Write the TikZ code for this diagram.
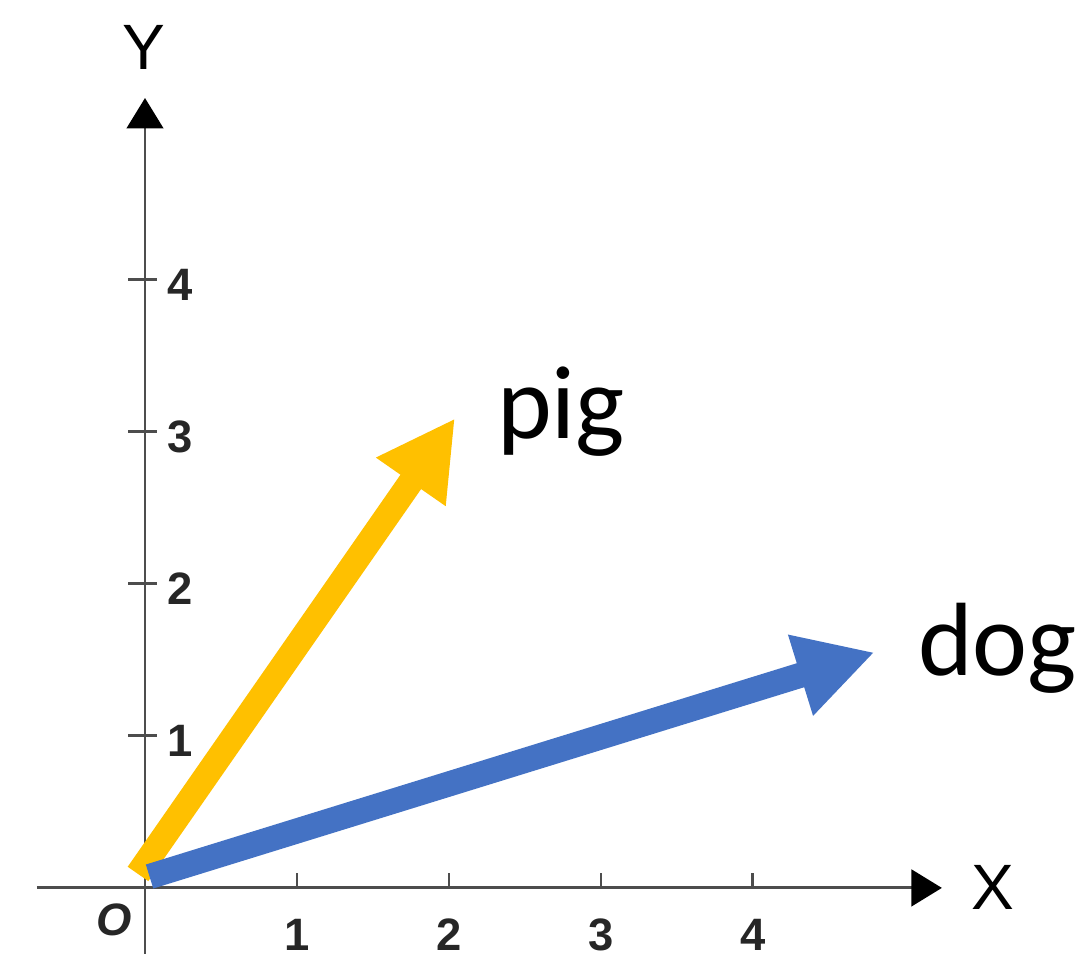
\documentclass[tikz,border=0pt]{standalone}
\usepackage{fontspec}
\setmainfont{Liberation Sans}
\newfontfamily\wordfont{Carlito}
\usepackage{tikz}
\usetikzlibrary{arrows.meta,positioning,calc}
\definecolor{piggold}{HTML}{FFC000}
\definecolor{dogblue}{HTML}{4472C4}
\definecolor{axisgrey}{HTML}{4D4D4D}

\begin{document}
\begin{tikzpicture}[
  axis/.style={draw=axisgrey,line width=0.55pt,-{Triangle[length=2mm,width=2.4mm,fill=black,color=black]}},
  tick/.style={draw=axisgrey,line width=0.55pt},
  ticklbl/.style={font=\bfseries\fontsize{8.5}{10}\selectfont,inner sep=0pt,text=black!85},
  axlbl/.style={font=\fontsize{12}{14}\selectfont,inner sep=0pt},
  word/.style={font=\wordfont\fontsize{19.5}{22}\selectfont,inner sep=0pt,anchor=base west},
  vec/.style={line width=4.7pt,-{Triangle[length=5.1mm,width=5.2mm]}}
]
\useasboundingbox[fill=white] (-0.954,-0.434) rectangle (6.191,5.842);
% axes
\coordinate (O) at (0,0);
\coordinate (xstart) at (-0.711,0);
\coordinate (xend) at (5.243,0);
\coordinate (ystart) at (0,-0.434);
\coordinate (yend) at (0,5.197);
\draw[axis] (xstart) -- (xend);
\draw[axis] (ystart) -- (yend);
\node[axlbl] (xlbl) at (5.58,0) {X};
\node[axlbl] (ylbl) at (-0.01,5.53) {Y};
\node[ticklbl] (olbl) at (-0.2,-0.21) {\textit{O}};
% ticks
\foreach \i in {1,...,4}{
  \draw[tick] (\i,0) -- (\i,0.1);
  \node[ticklbl] (xt\i) at (\i,-0.31) {\i};
  \draw[tick] (-0.11,\i) -- (0.08,\i);
  \node[ticklbl,anchor=west] (yt\i) at (0.14,\i-0.03) {\i};
}
% word vectors
\coordinate (pigtail) at (-0.046,0.092);
\coordinate (pigtip) at (2.04,3.09);
\coordinate (dogtail) at (0.03,0.075);
\coordinate (dogtip) at (4.80,1.55);
\draw[vec,piggold] (pigtail) -- (pigtip);
\draw[vec,dogblue] (dogtail) -- (dogtip);
\node[word] (pig) at (2.31,2.96) {pig};
\node[word] (dog) at (5.08,1.40) {dog};
\end{tikzpicture}
\end{document}
